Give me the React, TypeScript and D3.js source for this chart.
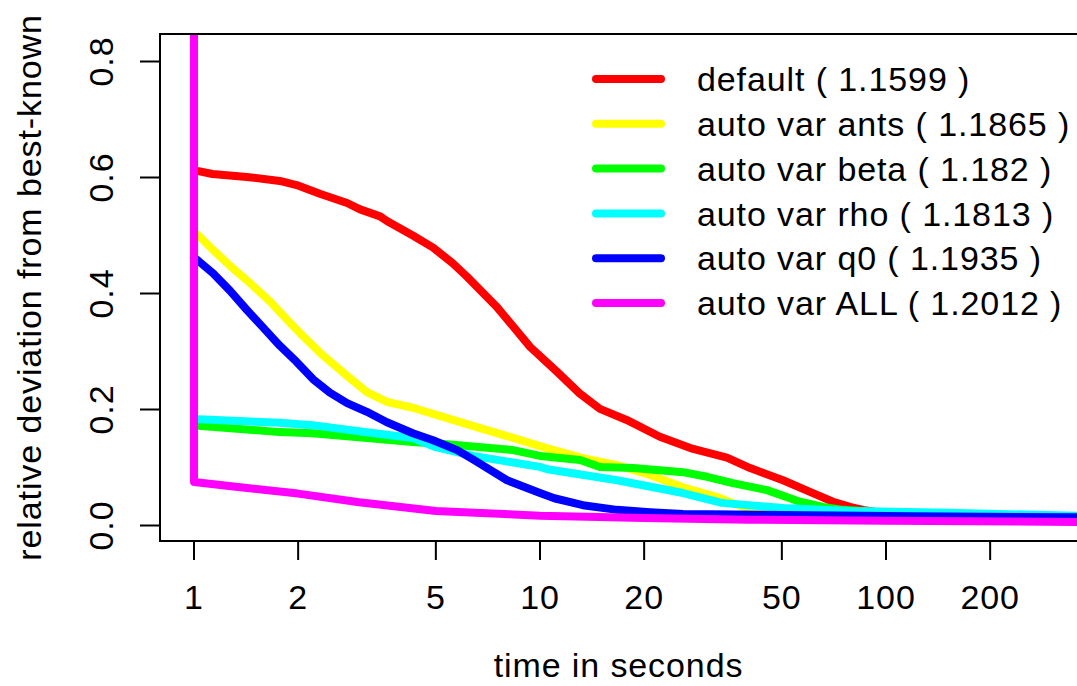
import React from "react";
import * as d3 from "d3";

// ---------- data ----------
const seriesLabels = [
  "default ( 1.1599 )",
  "auto var ants ( 1.1865 )",
  "auto var beta ( 1.182 )",
  "auto var rho ( 1.1813 )",
  "auto var q0 ( 1.1935 )",
  "auto var ALL ( 1.2012 )",
];
const seriesColors = ["#FF0000", "#FFFF00", "#00FF00", "#00FFFF", "#0000FF", "#FF00FF"];

const defaultTime = [1, 1.03, 1.13, 1.42, 1.77, 1.98, 2.31, 2.77, 3.02, 3.45, 3.61, 4.29, 4.91, 5.6, 6.15, 7.5, 9.36, 11.2, 13.0, 14.9, 17.8, 22.2, 27.7, 34.7, 40.5, 50.4, 60.3, 70.3, 78.7, 85.8, 96, 150, 400];
const defaultDev = [0.612, 0.611, 0.606, 0.601, 0.594, 0.587, 0.572, 0.556, 0.545, 0.533, 0.525, 0.5, 0.479, 0.452, 0.429, 0.377, 0.308, 0.265, 0.228, 0.201, 0.182, 0.153, 0.132, 0.117, 0.099, 0.078, 0.058, 0.041, 0.032, 0.027, 0.022, 0.016, 0.01];

const antsTime = [1, 1.03, 1.135, 1.27, 1.42, 1.66, 1.77, 1.89, 2.07, 2.36, 2.77, 3.16, 3.61, 4.29, 5.39, 6.71, 8.36, 10.5, 13.3, 16.7, 20.8, 25.9, 32.5, 40.5, 45.3, 80, 150, 400];
const antsDev = [0.505, 0.5, 0.475, 0.448, 0.423, 0.386, 0.368, 0.35, 0.326, 0.293, 0.258, 0.23, 0.213, 0.203, 0.185, 0.168, 0.151, 0.133, 0.116, 0.104, 0.087, 0.066, 0.049, 0.027, 0.02, 0.015, 0.011, 0.008];

const betaTime = [1, 1.03, 1.77, 2.2, 2.77, 4.29, 5.39, 8.36, 10, 13.05, 14.9, 18.6, 25.9, 30.4, 36.1, 45.3, 56.4, 65.8, 75.1, 100, 150, 400];
const betaDev = [0.173, 0.172, 0.161, 0.159, 0.154, 0.144, 0.14, 0.13, 0.12, 0.113, 0.101, 0.099, 0.092, 0.084, 0.073, 0.061, 0.041, 0.032, 0.027, 0.022, 0.017, 0.012];

const rhoTime = [1, 1.03, 1.77, 2.2, 2.77, 4.0, 4.29, 5.0, 6.4, 10, 10.5, 16.7, 25.9, 33.5, 50.4, 78.7, 153, 400];
const rhoDev = [0.184, 0.183, 0.177, 0.173, 0.165, 0.153, 0.151, 0.135, 0.12, 0.101, 0.097, 0.078, 0.056, 0.039, 0.03, 0.025, 0.022, 0.016];

const q0Time = [1, 1.03, 1.135, 1.27, 1.42, 1.58, 1.77, 1.98, 2.21, 2.47, 2.77, 3.16, 3.61, 4.29, 4.91, 5.76, 6.4, 8.03, 10, 11.0, 13.3, 16.7, 20.8, 25.9, 50, 120, 400];
const q0Dev = [0.462, 0.456, 0.435, 0.405, 0.372, 0.342, 0.31, 0.282, 0.252, 0.229, 0.211, 0.196, 0.178, 0.159, 0.147, 0.13, 0.114, 0.078, 0.056, 0.047, 0.035, 0.027, 0.023, 0.02, 0.018, 0.016, 0.014];

const allTime = [1, 1, 1.36, 2, 3, 5, 10, 20, 40, 100, 400];
const allDev = [1.5, 0.075, 0.066, 0.055, 0.04, 0.025, 0.017, 0.013, 0.01, 0.008, 0.006];

const seriesTimes = [defaultTime, antsTime, betaTime, rhoTime, q0Time, allTime];
const seriesDevs = [defaultDev, antsDev, betaDev, rhoDev, q0Dev, allDev];

const xTicks = [1, 2, 5, 10, 20, 50, 100, 200];
const yTicks = [0, 0.2, 0.4, 0.6, 0.8];

const xTitle = "time in seconds";
const yTitle = "relative deviation from best-known";

// ---------- layout ----------
const W = 1077;
const H = 686;
const box = { left: 160, top: 34, right: 1079, bottom: 541 };
const FONT = "'Liberation Sans', Arial, Helvetica, sans-serif";
const FS = 34;
const LS = 0.9;

export default function App() {
  const x = d3.scaleLog().domain([1, 10]).range([194, 540]);
  const y = d3.scaleLinear().domain([0, 0.8]).range([525.5, 61.5]);

  const line = d3
    .line<[number, number]>()
    .x((d) => x(d[0]))
    .y((d) => y(d[1]));

  const legendRowY = (i: number) => 79 + i * 44.8;

  return (
    <svg
      width={W}
      height={H}
      style={{ position: "absolute", left: 0, top: 0, background: "#fff" }}
      fontFamily={FONT}
    >
      <defs>
        <clipPath id="plotClip">
          <rect x={box.left} y={box.top} width={box.right - box.left} height={box.bottom - box.top} />
        </clipPath>
      </defs>
      <rect x={0} y={0} width={W} height={H} fill="#fff" />

      {/* series */}
      <g clipPath="url(#plotClip)">
        {seriesTimes.map((ts, i) => {
          const pts: [number, number][] = ts.map((t, k) => [t, seriesDevs[i][k]]);
          return (
            <path
              key={i}
              d={line(pts) || ""}
              fill="none"
              stroke={seriesColors[i]}
              strokeWidth={8}
              strokeLinejoin="round"
              strokeLinecap="round"
            />
          );
        })}
      </g>

      {/* box */}
      <rect
        x={box.left}
        y={box.top}
        width={box.right - box.left}
        height={box.bottom - box.top}
        fill="none"
        stroke="#000"
        strokeWidth={2}
      />

      {/* x axis */}
      {xTicks.map((t) => (
        <g key={t}>
          <line x1={x(t)} x2={x(t)} y1={box.bottom} y2={box.bottom + 19} stroke="#000" strokeWidth={2} />
          <text x={x(t)} y={609} textAnchor="middle" fontSize={FS} letterSpacing={LS}>
            {String(t)}
          </text>
        </g>
      ))}

      {/* y axis */}
      {yTicks.map((t) => (
        <g key={t}>
          <line x1={box.left - 20} x2={box.left} y1={y(t)} y2={y(t)} stroke="#000" strokeWidth={2} />
          <text
            transform={`translate(113,${y(t)}) rotate(-90)`}
            textAnchor="middle"
            fontSize={FS}
            letterSpacing={LS}
          >
            {t.toFixed(1)}
          </text>
        </g>
      ))}

      {/* titles */}
      <text x={(box.left + 1077) / 2} y={677} textAnchor="middle" fontSize={FS} letterSpacing={LS}>
        {xTitle}
      </text>
      <text
        transform={`translate(41,${(box.top + box.bottom) / 2}) rotate(-90)`}
        textAnchor="middle"
        fontSize={FS}
        letterSpacing={LS}
      >
        {yTitle}
      </text>

      {/* legend */}
      {seriesLabels.map((lab, i) => (
        <g key={lab}>
          <line
            x1={596}
            x2={661}
            y1={legendRowY(i)}
            y2={legendRowY(i)}
            stroke={seriesColors[i]}
            strokeWidth={8}
            strokeLinecap="round"
          />
          <text x={697} y={legendRowY(i)} dy="0.36em" fontSize={FS} letterSpacing={LS}>
            {lab}
          </text>
        </g>
      ))}
    </svg>
  );
}
